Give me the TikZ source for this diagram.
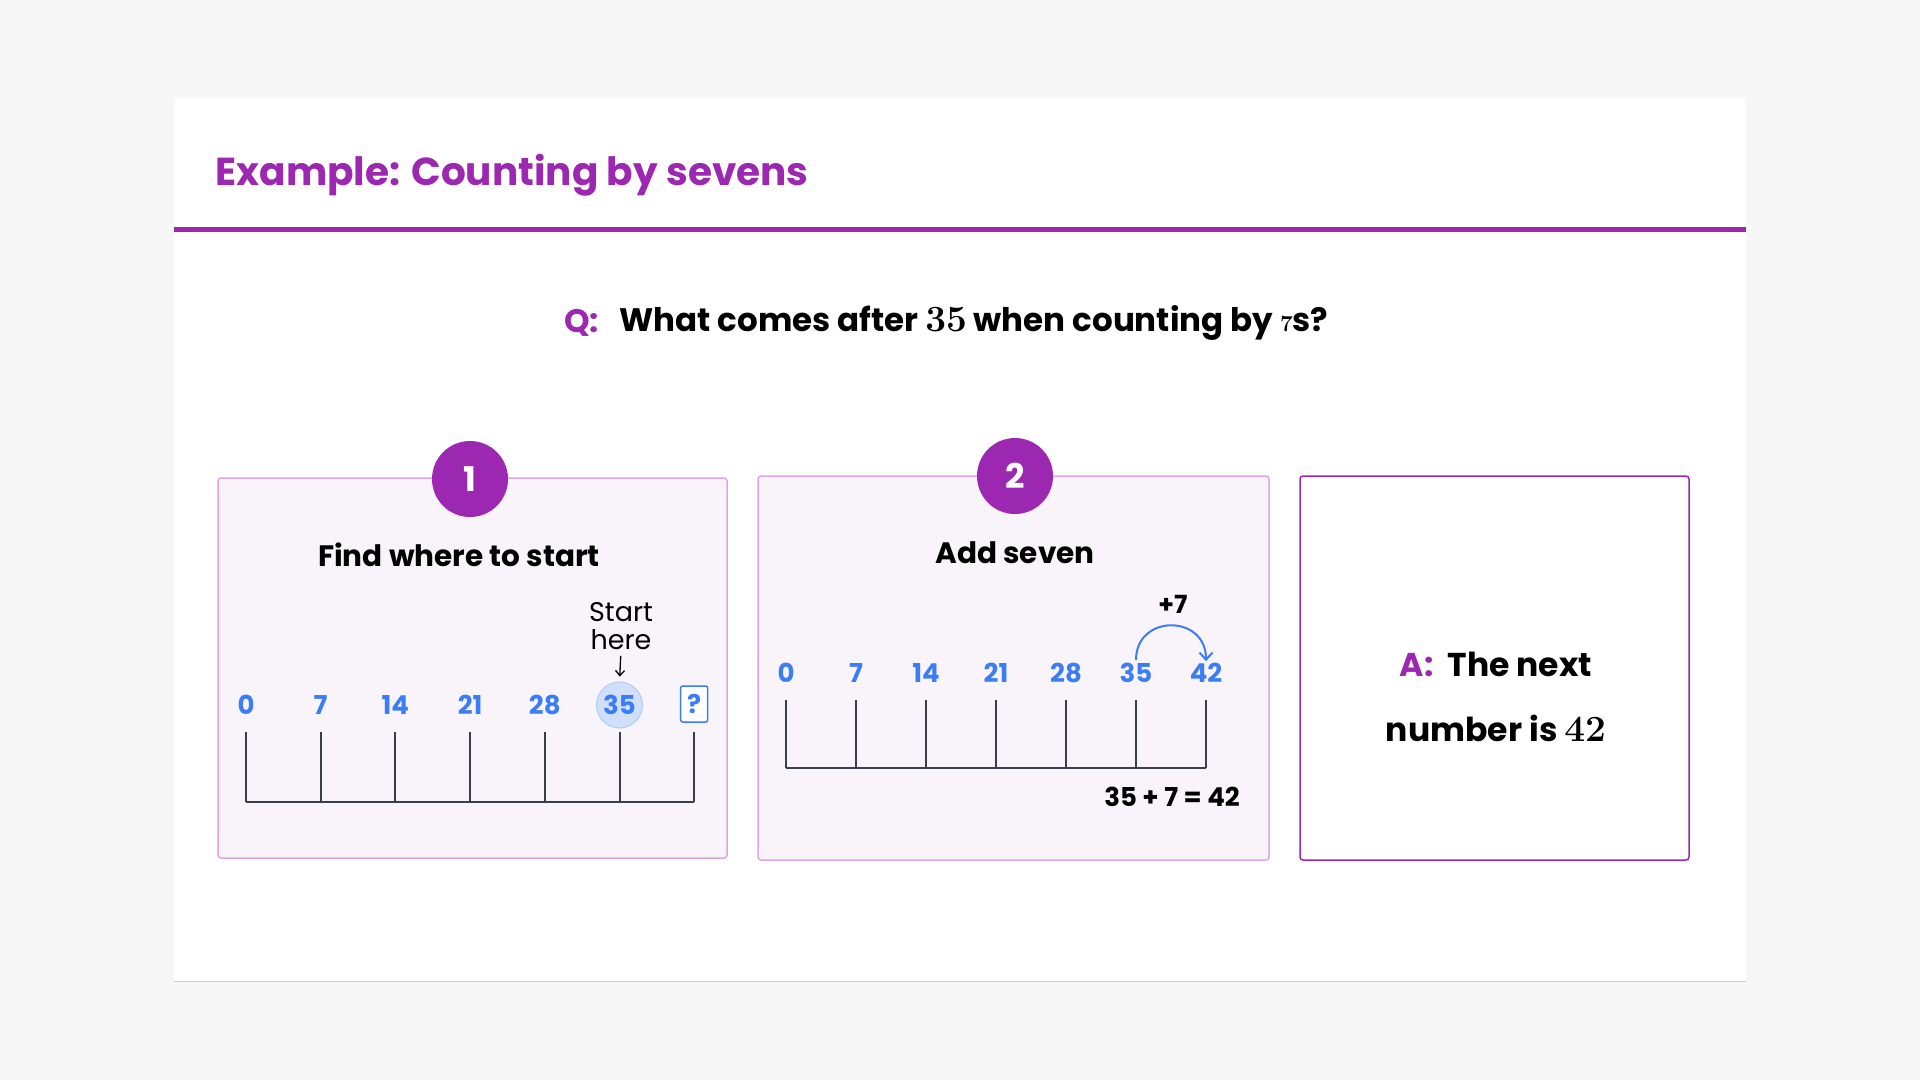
\documentclass[tikz,border=0pt]{standalone}
\usepackage{fix-cm}
\usepackage[no-math]{fontspec}
\setmainfont{Poppins}
\usetikzlibrary{arrows.meta,positioning}

\definecolor{brand}{HTML}{9C27B0}
\definecolor{boxfill}{HTML}{F9F4FA}
\definecolor{boxline}{HTML}{DDA6E2}
\definecolor{numblue}{HTML}{3B7DF6}
\definecolor{tickgray}{HTML}{3C3C4C}
\definecolor{pagegray}{HTML}{F7F7F7}
\definecolor{hilite}{HTML}{D0DFFB}
\definecolor{hiliteline}{HTML}{B4CBF6}

\tikzstyle{panel} = [draw=boxline, fill=boxfill, line width=1.5pt, rounded corners=3pt]
\tikzstyle{badge} = [circle, fill=brand, minimum size=76pt, inner sep=0pt, text=white, font=\bfseries\fontsize{34}{40}\selectfont]
\tikzstyle{heading} = [font=\bfseries\fontsize{29.5}{34}\selectfont]
\tikzstyle{num} = [text=numblue, font=\bfseries\fontsize{26}{30}\selectfont, inner sep=0pt]
\tikzstyle{tick} = [draw=tickgray, line width=2pt]
\def\stepA{74.7}
\def\stepB{70}
\newcommand{\bignum}[1]{{\fontsize{37}{44}\selectfont$\mathbf{#1}$}}

\begin{document}
\begin{tikzpicture}[x=1pt,y=-1pt]
    % page and card
    \fill[pagegray] (0,0) rectangle (1920,1080);
    \useasboundingbox (0,0) rectangle (1920,1080);
    \node[fill=white, minimum width=1572pt, minimum height=883pt, inner sep=0pt] (card) at (960,539.5) {};
    \draw[black!20] (card.south west) -- (card.south east);
    \node[anchor=west, text=brand, font=\bfseries\fontsize{39}{48}\selectfont] (title) at (212,175) {Example: Counting by sevens};
    \draw[brand, line width=5pt] (card.west |- 0,229) -- (card.east |- 0,229);

    % question
    \node[anchor=west, text=brand, font=\bfseries\fontsize{32.5}{38}\selectfont, inner sep=0pt] (qlabel) at (564,323) {Q:};
    \node[right=20pt of qlabel, font=\bfseries\fontsize{32.5}{38}\selectfont, inner sep=0pt] (qtext) {What comes after \bignum{35} when counting by $\mathbf{\scriptstyle 7}$s?};

    % draw panels
    \node[panel, minimum width=509pt, minimum height=380pt] (panelA) at (472.5,668) {};
    \node[panel, minimum width=511pt, minimum height=384pt] (panelB) at (1013.5,668) {};
    \node[panel, draw=brand, fill=white, minimum width=389pt, minimum height=384pt] (panelC) at (1494.5,668) {};
    \node[badge] (one) at (470,479) {1};
    \node[badge] (two) at (1015,476) {2};
    \node[heading] (headA) at (459,555) {Find where to start};
    \node[heading] (headB) at (1015,553) {Add seven};

    % number line 1
    \foreach \n [count=\i from 0] in {0,7,14,21,28}
        \node[num] (a\i) at ({246+\i*\stepA},705) {\n};
    \node[num, circle, fill=hilite, draw=hiliteline, line width=1pt, minimum size=46pt] (a5) at ({246+5*\stepA},705) {35};
    \node[num, draw=numblue, fill=white, line width=1.5pt, rounded corners=2pt, minimum width=27pt, minimum height=36pt] (a6) at ({246+6*\stepA},704) {?};
    \foreach \i in {0,...,6}
        \draw[tick] ({246+\i*\stepA},732) -- ++(0,70);
    \draw[tick] (246,802) -- ({246+6*\stepA},802);
    \node[align=center, font=\fontsize{27}{28}\selectfont, inner sep=0pt] (start) at (621,626) {Start\\here};
    \draw[-{Straight Barb[length=5pt,width=9pt]}, line width=1.3pt, shorten <=6pt, shorten >=5pt] (start.south) -- (a5.north);

    % number line 2
    \foreach \n [count=\i from 0] in {0,7,14,21,28,35,42}
        \node[num] (b\i) at ({786+\i*\stepB},673) {\n};
    \foreach \i in {0,...,6}
        \draw[tick] ({786+\i*\stepB},700) -- ++(0,68);
    \draw[tick] (786,768) -- ({786+6*\stepB},768);
    \draw[numblue, line width=2pt, -{Straight Barb[length=7pt,width=13pt]}, shorten <=3pt, shorten >=2pt] (b5.north) to[out=90, in=90, looseness=1.8] (b6.north);
    \node[font=\bfseries\fontsize{25}{30}\selectfont] (plus) at (1173,604) {+7};
    \node[font=\bfseries\fontsize{26}{30}\selectfont] (sum) at (1172,797) {35 + 7 = 42};

    % answer
    \node[align=center, font=\bfseries\fontsize{33}{65}\selectfont] (ans) at (1496,697) {\textcolor{brand}{A:}\hspace{14pt}The next\\number is \bignum{42}};
\end{tikzpicture}
\end{document}
